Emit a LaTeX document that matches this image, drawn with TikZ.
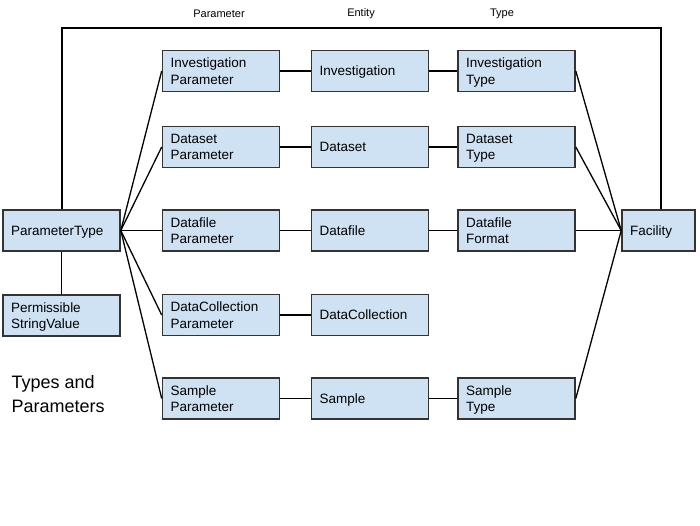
\documentclass[tikz,border=0pt]{standalone}
\usepackage{fontspec}
\setmainfont{Liberation Sans}
\definecolor{boxfill}{HTML}{CFE2F3}
\definecolor{boxline}{HTML}{333333}
\begin{document}
\begin{tikzpicture}[x=1pt,y=-1pt,
  box/.style={draw=boxline, line width=1.6pt, fill=boxfill, minimum height=41pt,
    inner xsep=8pt, inner ysep=2pt, text depth=16.5pt, align=left, font=\fontsize{13.5}{16.5}\selectfont},
  wbox/.style={box, text width=101pt, minimum width=117pt},
  fbox/.style={box, text width=57pt, minimum width=73pt},
  oneline/.style={text depth=0pt},
  link/.style={draw=black, line width=1.3pt},
  head/.style={font=\fontsize{11}{13}\selectfont}]
\useasboundingbox (0,0) rectangle (700,525);
% header labels
\node[head] (hp) at (219,13.5) {Parameter};
\node[head] (he) at (361,13.5) {Entity};
\node[head] (ht) at (502,13.5) {Type};
% left column
\node[wbox, oneline] (pt) at (61.5,230.5) {ParameterType};
\node[wbox] (psv) at (61.5,315.5) {Permissible\\StringValue};
% parameter column
\node[wbox] (ip) at (221,71) {Investigation\\Parameter};
\node[wbox] (dp) at (221,147) {Dataset\\Parameter};
\node[wbox] (fp) at (221,230.5) {Datafile\\Parameter};
\node[wbox] (cp) at (221,315) {DataCollection\\Parameter};
\node[wbox] (sp) at (221,398.5) {Sample\\Parameter};
% entity column
\node[wbox, oneline] (ie) at (370,71) {Investigation};
\node[wbox, oneline] (de) at (370,147) {Dataset};
\node[wbox, oneline] (fe) at (370,230.5) {Datafile};
\node[wbox, oneline] (ce) at (370,315) {DataCollection};
\node[wbox, oneline] (se) at (370,398.5) {Sample};
% type column
\node[wbox] (it) at (516.5,71) {Investigation\\Type};
\node[wbox] (dt) at (516.5,147) {Dataset\\Type};
\node[wbox] (ft) at (516.5,230.5) {Datafile\\Format};
\node[wbox] (st) at (516.5,398.5) {Sample\\Type};
% facility
\node[fbox, oneline] (fac) at (658.5,230.5) {Facility};
% title
\node[anchor=north west, align=left, font=\fontsize{18}{24}\selectfont] (title) at (8,372) {Types and\\Parameters};
% connectors
\coordinate (tl) at (62,28);
\coordinate (tr) at (661,28);
\begin{scope}[on background layer/.try]
\draw[link] (pt.north -| tl) -- (tl) -- (tr) -- (fac.north -| tr);
\draw[link] (pt) -- (psv);
\foreach \p in {ip,dp,fp,cp,sp} \draw[link] (pt.east) -- (\p.west);
\draw[link] (ip) -- (ie); \draw[link] (ie) -- (it);
\draw[link] (dp) -- (de); \draw[link] (de) -- (dt);
\draw[link] (fp) -- (fe); \draw[link] (fe) -- (ft);
\draw[link] (cp) -- (ce);
\draw[link] (sp) -- (se); \draw[link] (se) -- (st);
\foreach \t in {it,dt,ft,st} \draw[link] (fac.west) -- (\t.east);
\end{scope}
\end{tikzpicture}
\end{document}
